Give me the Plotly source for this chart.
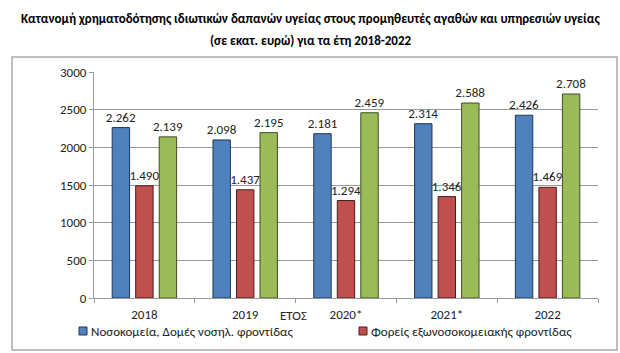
import plotly.graph_objects as go

years = ["2018", "2019", "2020*", "2021*", "2022"]
hospitals = [2262, 2098, 2181, 2314, 2426]
outpatient = [1490, 1437, 1294, 1346, 1469]
goods = [2139, 2195, 2459, 2588, 2708]

names = ["Νοσοκομεία, Δομές νοσηλ. φροντίδας", "Φορείς εξωνοσοκομειακής φροντίδας", "Πάροχοι ιατρικών αγαθών"]
fills = ["#4F81BD", "#C0504D", "#9BBB59"]
lines = ["#1F3550", "#4A1C1B", "#3E4D22"]

FONT = "Carlito, 'Liberation Sans Narrow', 'Liberation Sans', Arial, sans-serif"

def fmt(v):
    return f"{v:,}".replace(",", ".")

fig = go.Figure()
for i, (vals, name) in enumerate(zip([hospitals, outpatient, goods], names)):
    fig.add_trace(go.Bar(
        x=years, y=vals, name=name,
        marker=dict(color=fills[i], line=dict(color=lines[i], width=1)),
        text=[fmt(v) for v in vals], textposition="outside",
        constraintext="none",
        textfont=dict(family=FONT, size=13, color="#222"),
        cliponaxis=False,
        showlegend=False,
    ))

L, R, T, B = 94, 598, 72, 298
W, H = R - L, B - T

def py(px):
    return (B - px) / H

def pxx(px):
    return (px - L) / W

title1 = "<b>Κατανομή χρηματοδότησης ιδιωτικών δαπανών υγείας στους προμηθευτές αγαθών και υπηρεσιών υγείας</b>"
title2 = "<b>(σε εκατ. ευρώ) για τα έτη 2018-2022</b>"

shapes = [dict(
    type="rect", xref="paper", yref="paper",
    x0=pxx(12), x1=pxx(617),
    y0=py(350), y1=py(57),
    line=dict(color="#AAAAAA", width=1.5), fillcolor="rgba(0,0,0,0)", layer="below",
)]
annotations = [
    dict(text="ΕΤΟΣ", xref="paper", yref="paper",
         x=pxx(293), y=py(315), xanchor="center", yanchor="middle",
         showarrow=False, font=dict(family=FONT, size=13, color="#222")),
    dict(text=title1, xref="paper", yref="paper",
         x=pxx(310), y=py(18), xanchor="center", yanchor="middle",
         showarrow=False, font=dict(family=FONT, size=13, color="black")),
    dict(text=title2, xref="paper", yref="paper",
         x=pxx(310), y=py(40), xanchor="center", yanchor="middle",
         showarrow=False, font=dict(family=FONT, size=13, color="black")),
]

# manual legend (first two series, as in the reference)
legend_x = [79, 359]
ly = 331
for i in range(2):
    x0 = legend_x[i]
    shapes.append(dict(
        type="rect", xref="paper", yref="paper",
        x0=pxx(x0), x1=pxx(x0 + 8), y0=py(ly + 4), y1=py(ly - 4),
        line=dict(color=lines[i], width=1), fillcolor=fills[i],
    ))
    annotations.append(dict(
        text=names[i], xref="paper", yref="paper",
        x=pxx(x0 + 10), y=py(ly), xanchor="left", yanchor="middle",
        showarrow=False, font=dict(family=FONT, size=13, color="#222"),
    ))

fig.update_layout(
    width=620, height=353,
    margin=dict(l=L, r=620 - R, t=T, b=353 - B, autoexpand=False),
    paper_bgcolor="white", plot_bgcolor="white",
    barmode="group", bargap=0.3, bargroupgap=0.26,
    font=dict(family=FONT, size=13, color="#222"),
    showlegend=False,
    xaxis=dict(
        showgrid=False, showline=True, linecolor="#999", linewidth=1,
        ticks="outside", tickcolor="#999", ticklen=4, tickson="boundaries",
        ticklabelstandoff=4,
        tickfont=dict(family=FONT, size=13, color="#222"),
    ),
    yaxis=dict(
        range=[0, 3000], dtick=500, showgrid=True, gridcolor="#999", gridwidth=1,
        showline=True, linecolor="#999", linewidth=1,
        ticks="outside", tickcolor="#999", ticklen=4,
        tickfont=dict(family=FONT, size=13, color="#222"),
        zeroline=False,
    ),
    shapes=shapes,
    annotations=annotations,
)

fig.write_html("out.html")
